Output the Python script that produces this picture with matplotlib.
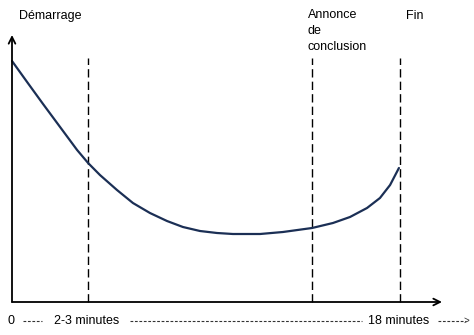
import matplotlib.pyplot as plt

# attention curve (time in minutes, attention arbitrary units)
time_min = [0.0, 0.70, 1.44, 2.23, 3.02, 3.53, 4.08, 4.87, 5.61, 6.40, 7.19, 7.93,
            8.72, 9.51, 10.25, 11.51, 12.57, 13.92, 14.89, 15.68, 16.47, 17.07,
            17.54, 17.95]
attention = [241, 220, 198, 175, 152, 139, 127, 112, 99, 89, 81, 75,
             71, 69, 68, 68, 70, 74, 79, 85, 94, 104,
             117, 134]

# vertical markers and their captions
marker_times = [3.53, 13.92, 18.0]
top_labels = ["Démarrage", "Annonce\nde\nconclusion", "Fin"]

PX = 18 / 388  # minutes per pixel of the reference


def px_x(px):
    return (px - 12) * PX


def px_y(py):
    return 302 - py


plt.rcParams["font.family"] = ["Liberation Sans", "DejaVu Sans"]

fig = plt.figure(figsize=(4.74, 3.35), dpi=100)
ax = fig.add_axes([0, 0, 1, 1])
ax.set_xlim(px_x(0), px_x(474))
ax.set_ylim(px_y(335), px_y(0))
ax.axis("off")

arrow = dict(arrowstyle="->", color="black", lw=1.3, mutation_scale=12,
             shrinkA=0, shrinkB=0)
ax.annotate("", xy=(0, px_y(35)), xytext=(0, 0), arrowprops=arrow)
ax.annotate("", xy=(px_x(442), 0), xytext=(0, 0), arrowprops=arrow)

for t in marker_times:
    ax.plot([t, t], [0, px_y(58)], color="black", lw=1.0, dashes=(6, 3))

ax.plot(time_min, attention, color="#1b2f55", lw=1.6,
        solid_capstyle="round", solid_joinstyle="round")

ax.text(px_x(19), px_y(16), top_labels[0], fontsize=9, va="center", ha="left")
ax.text(px_x(308), px_y(9), top_labels[1], fontsize=9, va="top", ha="left",
        linespacing=1.45)
ax.text(px_x(406), px_y(16), top_labels[2], fontsize=9, va="center", ha="left")

# bottom timeline caption
yb = px_y(321)
ax.text(px_x(8), yb, "0", fontsize=9, va="center", ha="left")
ax.text(px_x(54), yb, "2-3 minutes", fontsize=9, va="center", ha="left")
ax.text(px_x(368), yb, "18 minutes", fontsize=9, va="center", ha="left")
ax.plot([px_x(23), px_x(42)], [yb, yb], color="#333333", lw=0.8, dashes=(2.5, 1.5))
ax.plot([px_x(130), px_x(362)], [yb, yb], color="#333333", lw=0.8, dashes=(2.5, 1.5))
ax.plot([px_x(438), px_x(466)], [yb, yb], color="#333333", lw=0.8, dashes=(2.5, 1.5))
ax.text(px_x(464), yb, ">", fontsize=7, va="center", ha="left", color="#333333")

fig.savefig("out.png", dpi=100)
